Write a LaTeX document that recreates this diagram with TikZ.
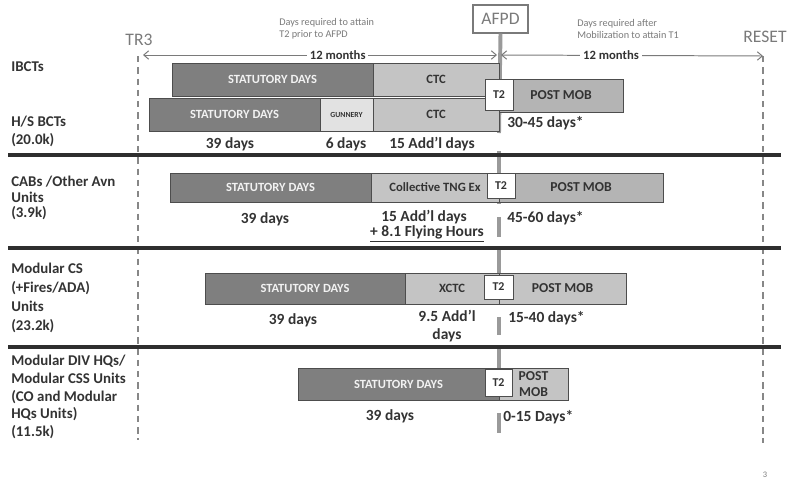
\documentclass[tikz,border=0pt]{standalone}
\usepackage{fontspec}
\setmainfont{Carlito}
\usepackage{tikz}
\usetikzlibrary{arrows.meta}

\definecolor{statgray}{HTML}{7F7F7F}
\definecolor{ctcgray}{HTML}{C4C4C4}
\definecolor{postgray}{HTML}{B4B4B4}
\definecolor{gungray}{HTML}{E2E2E2}
\definecolor{barline}{HTML}{4D4D4D}
\definecolor{textdark}{HTML}{333333}
\definecolor{markgray}{HTML}{7A7A7A}
\definecolor{divline}{HTML}{2E2E2E}
\definecolor{afpdgray}{HTML}{9A9A9A}

\begin{document}
\begin{tikzpicture}[
  x=0.025cm,
  y=-0.025cm,
  bar/.style={
      rectangle,
      draw=barline,
      line width=0.6pt,
      anchor=north west,
      inner sep=0pt,
      outer sep=0pt,
      align=center,
      text=textdark,
      font=\bfseries\fontsize{9}{10}\selectfont
  },
  statutory/.style={
      bar,
      fill=statgray,
      text=white!95!black,
      font=\bfseries\fontsize{8.9}{10}\selectfont
  },
  ctc/.style={
      bar,
      fill=ctcgray
  },
  postmob/.style={
      bar,
      fill=postgray,
      font=\bfseries\fontsize{9.7}{11}\selectfont
  },
  ttwo/.style={
      bar,
      fill=white,
      font=\bfseries\fontsize{8.5}{10}\selectfont
  },
  unit/.style={
      anchor=west,
      align=left,
      inner sep=0pt,
      text=textdark,
      font=\bfseries\fontsize{10.6}{12.8}\selectfont
  },
  days/.style={
      align=center,
      inner sep=0pt,
      text=textdark,
      font=\bfseries\fontsize{11}{12.5}\selectfont
  },
  milestone/.style={
      inner sep=0pt,
      text=markgray,
      font=\fontsize{12.5}{14}\selectfont
  },
  note/.style={
      anchor=west,
      align=left,
      inner sep=0pt,
      text=markgray,
      font=\fontsize{7.3}{8.6}\selectfont
  },
  divider/.style={
      draw=divline,
      line width=2.4pt
  },
  endline/.style={
      draw=markgray!90,
      line width=1.4pt,
      dash pattern=on 4.5pt off 3.5pt
  },
  afpdline/.style={
      draw=afpdgray,
      line width=2.8pt
  },
  span/.style={
      {Straight Barb[length=3.5pt,width=6pt]}-{Straight Barb[length=3.5pt,width=6pt]},
      draw=markgray,
      line width=0.7pt
  }
]

\useasboundingbox (0,0) rectangle (787,482);

% ==================================================
% Milestones : TR3, AFPD, RESET
% ==================================================

\node[milestone] (tr3) at (139,40) {TR3};
\node[milestone] (reset) at (765,37) {RESET};

\node[
    milestone,
    draw=markgray,
    line width=0.8pt,
    fill=white,
    minimum width=1.375cm,
    minimum height=0.7cm
] (afpd) at (500.5,19) {AFPD};

\node[note] (prenote) at (279,29)
{
Days required to attain\\
T2 prior to AFPD
};

\node[note] (postnote) at (577,29)
{
Days required after\\
Mobilization to attain T1
};

\coordinate (tr3top) at (138,56);
\coordinate (tr3bot) at (138,440);
\coordinate (resettop) at (763,56);
\coordinate (resetbot) at (763,443);

\draw[endline] (tr3top) -- (tr3bot);
\draw[endline] (resettop) -- (resetbot);

% AFPD line, broken under the day counts
\draw[afpdline] (afpd.south) -- (499,133);
\draw[afpdline] (499,151) -- (499,204);
\draw[afpdline] (499,217) -- (499,237);
\draw[afpdline] (499,250) -- (499,304);
\draw[afpdline] (499,317) -- (499,335);
\draw[afpdline] (499,349) -- (499,400);
\draw[afpdline] (499,413) -- (499,433);

\coordinate (afpdL) at (497,55);
\coordinate (afpdR) at (501,55);

\draw[span] (143,55) -- (afpdL)
    node[pos=0.55, fill=white, inner sep=2pt, text=textdark,
         font=\bfseries\fontsize{9}{10}\selectfont] (premonths) {12 months};
\draw[span] (afpdR) -- (resettop)
    node[pos=0.42, fill=white, inner sep=2pt, text=textdark,
         font=\bfseries\fontsize{9}{10}\selectfont] (postmonths) {12 months};

% ==================================================
% Dividers
% ==================================================

\draw[divider] (8,155) -- (781,155);
\draw[divider] (8,248) -- (781,248);
\draw[divider] (8,347) -- (781,347);

% ==================================================
% IBCTs and H/S BCTs
% ==================================================

\node[unit] (ibct) at (11,67) {IBCTs};
\node[unit] (hsbct) at (11,131) {H/S BCTs\\(20.0k)};

\node[statutory, minimum width=5.025cm, minimum height=0.825cm]
    (stat1) at (172,63) {STATUTORY DAYS};
\node[ctc, minimum width=3.15cm, minimum height=0.825cm]
    (ctc1) at (373,63) {CTC};

\node[statutory, minimum width=4.275cm, minimum height=0.825cm]
    (stat2) at (149,98) {STATUTORY DAYS};
\node[bar, fill=gungray, minimum width=1.325cm, minimum height=0.825cm,
      font=\bfseries\fontsize{5.5}{6}\selectfont]
    (gun) at (320,98) {GUNNERY};
\node[ctc, minimum width=3.15cm, minimum height=0.825cm]
    (ctc2) at (373,98) {CTC};

\node[postmob, minimum width=3.1cm, minimum height=0.825cm]
    (post1) at (499,79) {POST MOB};
\node[ttwo, minimum width=0.7cm, minimum height=0.775cm]
    (t21) at (485,79) {T2};

\node[days] (d11) at (230,144) {39 days};
\node[days] (d12) at (346,144) {6 days};
\node[days] (d13) at (432,144) {15 Add’l days};
\node[days, anchor=west] (d14) at (507,123) {30-45 days*};

% ==================================================
% CABs / Other Avn Units
% ==================================================

\node[unit, font=\bfseries\fontsize{10.6}{11.2}\selectfont]
    (cab) at (11,198) {CABs /Other Avn\\Units\\(3.9k)};

\node[statutory, minimum width=5.025cm, minimum height=0.725cm]
    (stat3) at (170,173) {STATUTORY DAYS};
\node[ctc, minimum width=3.2cm, minimum height=0.725cm]
    (cte) at (371,173) {Collective TNG Ex};
\node[postmob, minimum width=4.1cm, minimum height=0.725cm]
    (post2) at (499,173) {POST MOB};
\node[ttwo, minimum width=0.7cm, minimum height=0.625cm]
    (t22) at (487,173) {T2};

\node[days] (d21) at (265,219) {39 days};
\node[days] (d22) at (424,217) {15 Add’l days};
\node[days] (d23) at (427,234) {\underline{+ 8.1 Flying Hours}};
\node[days, anchor=west] (d24) at (507,218) {45-60 days*};

% ==================================================
% Modular CS Units
% ==================================================

\node[unit, font=\bfseries\fontsize{10.6}{13.5}\selectfont]
    (mcs) at (11,298) {Modular CS\\(+Fires/ADA)\\Units\\(23.2k)};

\node[statutory, minimum width=5.0cm, minimum height=0.775cm]
    (stat4) at (205,273) {STATUTORY DAYS};
\node[ctc, minimum width=2.35cm, minimum height=0.775cm]
    (xctc) at (405,273) {XCTC};
\node[ctc, minimum width=3.175cm, minimum height=0.775cm,
      font=\bfseries\fontsize{9.7}{11}\selectfont]
    (post3) at (499,273) {POST MOB};
\node[ttwo, minimum width=0.725cm, minimum height=0.6cm]
    (t23) at (484,275) {T2};

\node[days] (d31) at (293,320) {39 days};
\node[days] (d32) at (447,326) {9.5 Add’l\\days};
\node[days, anchor=west] (d33) at (508,318) {15-40 days*};

% ==================================================
% Modular DIV HQs / CSS Units
% ==================================================

\node[unit, font=\bfseries\fontsize{10.6}{12.6}\selectfont]
    (mdiv) at (11,397)
    {Modular DIV HQs/\\Modular CSS Units\\(CO and Modular\\HQs Units)\\(11.5k)};

\node[statutory, minimum width=5.025cm, minimum height=0.8cm]
    (stat5) at (298,368) {STATUTORY DAYS};
\node[ctc, minimum width=1.725cm, minimum height=0.8cm,
      font=\bfseries\fontsize{9.7}{11}\selectfont]
    (post4) at (499,368) {POST\\MOB};
\node[ttwo, minimum width=0.675cm, minimum height=0.675cm]
    (t24) at (485,369) {T2};

\node[days] (d41) at (390,416) {39 days};
\node[days, anchor=west] (d42) at (503,417) {0-15 Days*};

\node[inner sep=0pt, text=markgray, font=\fontsize{6}{7}\selectfont]
    (page) at (765,475) {3};

\end{tikzpicture}
\end{document}
